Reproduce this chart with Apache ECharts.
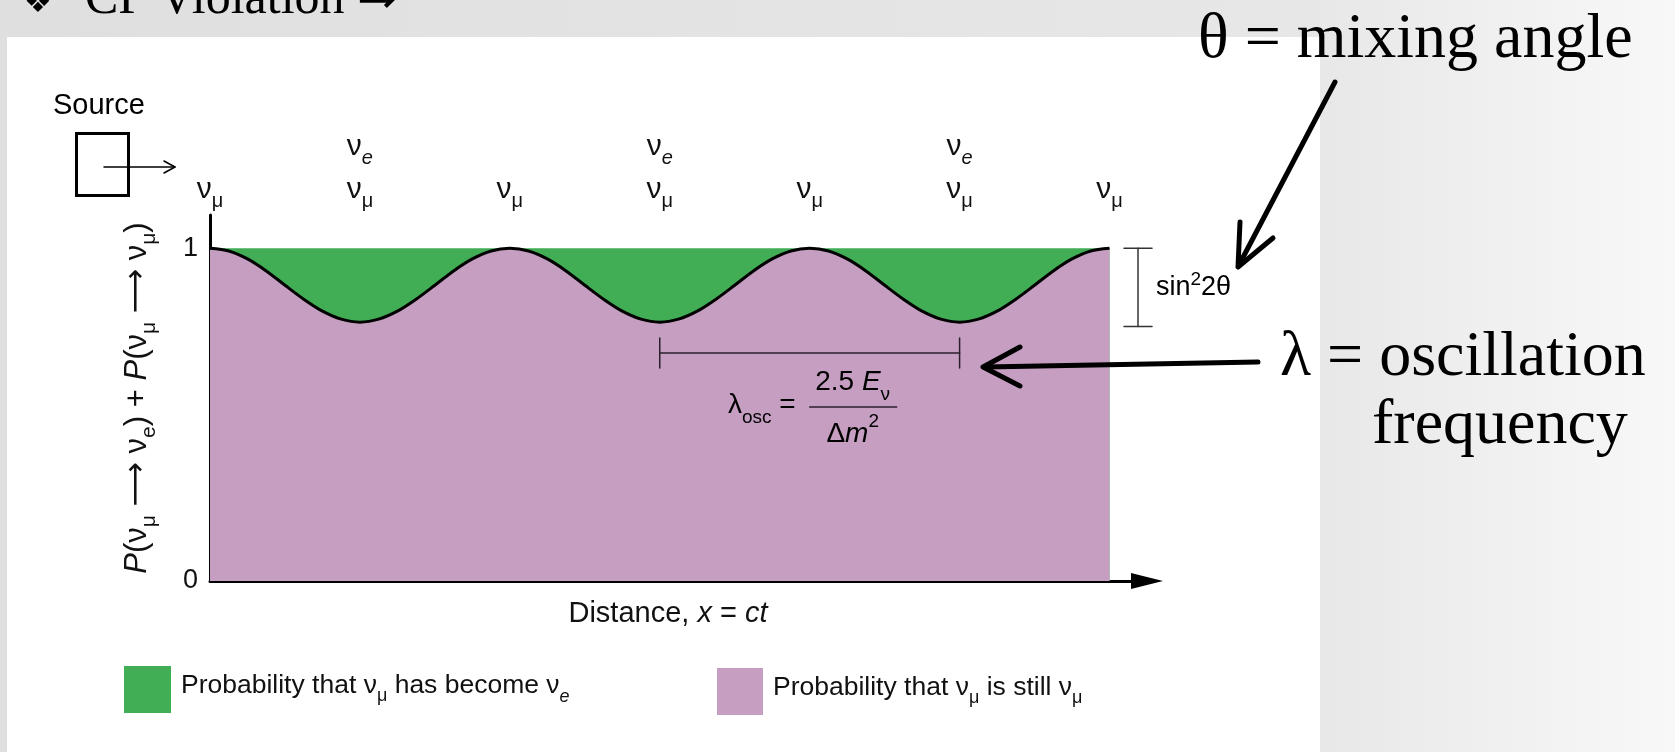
<!DOCTYPE html>
<html>
<head>
<meta charset="utf-8">
<title>Neutrino oscillation</title>
<script src="https://cdn.jsdelivr.net/npm/echarts@6.0.0/dist/echarts.min.js"></script>
<style>
  html, body { margin:0; padding:0; width:1675px; height:752px; overflow:hidden; }
  body { background: linear-gradient(to right, #dfdfdf 0%, #e7e7e7 78%, #f8f8f8 100%); }
  #panel { position:absolute; left:7px; top:37px; width:1313px; height:715px; background:#ffffff; }
  #chart { position:absolute; left:0; top:0; width:1675px; height:752px; }
</style>
</head>
<body>
<div id="panel"></div>
<div id="chart"></div>
<script>
// ---------------- data ----------------
// distance in units of the oscillation length (sampled every 1/16)
const distance = [0, 0.0625, 0.125, 0.1875, 0.25, 0.3125, 0.375, 0.4375,
                  0.5, 0.5625, 0.625, 0.6875, 0.75, 0.8125, 0.875, 0.9375,
                  1, 1.0625, 1.125, 1.1875, 1.25, 1.3125, 1.375, 1.4375,
                  1.5, 1.5625, 1.625, 1.6875, 1.75, 1.8125, 1.875, 1.9375,
                  2, 2.0625, 2.125, 2.1875, 2.25, 2.3125, 2.375, 2.4375,
                  2.5, 2.5625, 2.625, 2.6875, 2.75, 2.8125, 2.875, 2.9375, 3];
// P(nu_mu -> nu_mu)
const pMuMu = [1.000, 0.992, 0.968, 0.932, 0.889, 0.847, 0.811, 0.787,
               0.778, 0.787, 0.811, 0.847, 0.889, 0.932, 0.968, 0.992,
               1.000, 0.992, 0.968, 0.932, 0.889, 0.847, 0.811, 0.787,
               0.778, 0.787, 0.811, 0.847, 0.889, 0.932, 0.968, 0.992,
               1.000, 0.992, 0.968, 0.932, 0.889, 0.847, 0.811, 0.787,
               0.778, 0.787, 0.811, 0.847, 0.889, 0.932, 0.968, 0.992, 1.000];
// total probability (green + purple) = 1
const totalX = [0, 3];
const totalP = [1, 1];
// flavour labels along the top
const topTickValues = [0, 0.5, 1, 1.5, 2, 2.5, 3];
const topTickLabels = ['ν_μ', 'ν_e\nν_μ', 'ν_μ', 'ν_e\nν_μ', 'ν_μ', 'ν_e\nν_μ', 'ν_μ'];
// y ticks
const yTickValues = [0, 1];
const yTickLabels = ['0', '1'];
// names
const seriesNames = ['Probability that ν_μ has become ν_e', 'Probability that ν_μ is still ν_μ'];
const yAxisTitle = '*P*(ν_μ ⟶ ν_e) + *P*(ν_μ ⟶ ν_μ)';
const xAxisTitle = 'Distance, *x* = *ct*';

// ---------------- styling ----------------
const FF = '"Liberation Sans", Arial, Helvetica, sans-serif';
const SERIF = '"Liberation Serif", "Times New Roman", serif';
const GREEN = '#41ad55';
const PURPLE = '#c59ec2';
const INK = '#111111';

function toRich(str, eItalic) {
  return str.split(/(\*[^*]+\*|ν_[μe]|\n|⟶)/).map(p => {
    if (!p) return '';
    if (p === '\n') return '\n';
    if (p === '⟶') return '{a|⟶}';
    if (p[0] === '*') return '{i|' + p.slice(1, -1) + '}';
    if (p === 'ν_μ') return '{n|ν}{s|μ}';
    if (p === 'ν_e') return '{n|ν}{' + (eItalic ? 'se' : 's') + '|e}';
    return '{n|' + p + '}';
  }).join('');
}
function richSet(size, lh, sub) {
  return {
    n:  { fontSize: size, lineHeight: lh, fontFamily: FF, color: INK },
    a:  { fontSize: size, lineHeight: lh, fontFamily: '"DejaVu Sans"', color: INK },
    i:  { fontSize: size, lineHeight: lh, fontFamily: FF, color: INK, fontStyle: 'italic' },
    s:  { fontSize: sub, lineHeight: sub, fontFamily: FF, color: INK, verticalAlign: 'bottom' },
    se: { fontSize: sub, lineHeight: sub, fontFamily: FF, color: INK, verticalAlign: 'bottom', fontStyle: 'italic' },
    sup:{ fontSize: sub, lineHeight: sub, fontFamily: FF, color: INK, verticalAlign: 'top' }
  };
}
function lookup(values, labels, v) {
  const k = values.findIndex(t => Math.abs(t - v) < 1e-6);
  return k < 0 ? null : labels[k];
}

const chart = echarts.init(document.getElementById('chart'), null, { renderer: 'canvas' });

const option = {
  animation: false,
  backgroundColor: 'transparent',
  textStyle: { fontFamily: FF, color: INK },
  grid: { left: 210, right: 528, top: 215, bottom: 171, outerBoundsMode: 'none' },
  xAxis: [
    {
      type: 'value', position: 'bottom', min: 0, max: 3.125,
      axisLine: { show: true, onZero: false, lineStyle: { color: '#000', width: 3 },
                  symbol: ['none', 'triangle'], symbolSize: [16, 32] },
      axisTick: { show: false }, axisLabel: { show: false }, splitLine: { show: false },
      name: toRich(xAxisTitle, false), nameLocation: 'middle', nameGap: 18,
      nameTextStyle: { padding: [0, 21, 0, 0], rich: richSet(29, 30, 19) }
    },
    {
      type: 'value', position: 'top', min: 0, max: 3.125, interval: 0.5,
      axisLine: { show: false }, axisTick: { show: false }, splitLine: { show: false },
      axisLabel: {
        show: true, interval: 0, margin: 4, verticalAlign: 'bottom',
        formatter: v => { const l = lookup(topTickValues, topTickLabels, v); return l ? toRich(l, true) : ''; },
        rich: richSet(30, 43, 20)
      }
    }
  ],
  yAxis: {
    type: 'value', min: 0, max: 1.1, interval: 1,
    axisLine: { show: true, onZero: false, lineStyle: { color: '#000', width: 3 } },
    axisTick: { show: false }, splitLine: { show: false },
    axisLabel: {
      margin: 12, fontSize: 27, color: INK, fontFamily: FF,
      formatter: v => lookup(yTickValues, yTickLabels, v) || ''
    },
    name: toRich(yAxisTitle, false), nameLocation: 'middle', nameRotate: 90, nameGap: 50,
    nameTextStyle: { rich: richSet(31, 46, 21) }
  },
  legend: [
    {
      data: [seriesNames[0]], left: 124, top: 666, orient: 'horizontal', padding: 0,
      icon: 'rect', itemWidth: 47, itemHeight: 47, selectedMode: false,
      itemStyle: { color: GREEN, borderWidth: 0 },
      formatter: n => toRich(n, true),
      textStyle: { padding: [0, 0, 8, 5], rich: richSet(26.5, 40, 18) }
    },
    {
      data: [seriesNames[1]], left: 717, top: 668, orient: 'horizontal', padding: 0,
      icon: 'rect', itemWidth: 46, itemHeight: 47, selectedMode: false,
      itemStyle: { color: PURPLE, borderWidth: 0 },
      formatter: n => toRich(n, true),
      textStyle: { padding: [0, 0, 8, 5], rich: richSet(26.5, 40, 18) }
    }
  ],
  series: [
    {
      name: seriesNames[0], type: 'line', xAxisIndex: 0, yAxisIndex: 0,
      data: totalX.map((x, i) => [x, totalP[i]]),
      symbol: 'none', silent: true, z: 1,
      itemStyle: { color: GREEN },
      lineStyle: { width: 0, opacity: 0 },
      areaStyle: { color: GREEN, opacity: 1 }
    },
    {
      name: seriesNames[1], type: 'line', xAxisIndex: 0, yAxisIndex: 0,
      data: distance.map((x, i) => [x, pMuMu[i]]),
      smooth: 0.3, symbol: 'none', silent: true, z: 2,
      itemStyle: { color: PURPLE },
      lineStyle: { color: '#000', width: 3 },
      areaStyle: { color: PURPLE, opacity: 1 }
    }
  ]
};
chart.setOption(option);

// ---------------- annotations ----------------
const px = (x, y) => chart.convertToPixel({ xAxisIndex: 0, yAxisIndex: 0 }, [x, y]);
const txt = (x, y, text, font, extra) => ({
  type: 'text', x: x, y: y, z: 50,
  style: Object.assign({ text: text, font: font, fill: '#000', align: 'left', verticalAlign: 'middle' }, extra || {})
});
const line = (pts, w, color) => ({
  type: 'polyline', z: 50, shape: { points: pts },
  style: { stroke: color || '#000', lineWidth: w, fill: null, lineCap: 'round', lineJoin: 'round' }
});

// oscillation-length bracket
const [bx0, by] = px(1.5, 0.685);
const [bx1] = px(2.5, 0.685);
const cx = (bx0 + bx1) / 2;
const BR = '#2b1f2b';
// sin^2 2θ bracket
const [sx, sTop] = px(3.095, 1.0);
const [, sBot] = px(3.095, 0.765);

const graphics = [
  // slide title (cut at top)
  txt(24, 4, '❖', '31px "DejaVu Sans"'),
  txt(85, 0, 'CP Violation ⇒', '50px ' + SERIF),
  // source
  txt(53, 106, 'Source', '29px ' + FF),
  { type: 'rect', z: 50, shape: { x: 76.5, y: 133.5, width: 52, height: 62 },
    style: { fill: null, stroke: '#000', lineWidth: 3 } },
  line([[104, 167], [175, 167]], 1.5),
  line([[164, 161], [175, 167], [164, 173]], 1.5),
  // right-hand annotations
  txt(1198, 40, 'θ = mixing angle', '64px ' + SERIF),
  line([[1335, 82], [1239, 265]], 5),
  line([[1273, 238], [1238, 267], [1240, 222]], 5),
  txt(1280, 358, 'λ = oscillation', '64px ' + SERIF),
  txt(1372, 426, 'frequency', '64px ' + SERIF),
  line([[1258, 362], [985, 367]], 5),
  line([[1020, 347], [983, 367], [1020, 386]], 5),
  // λ_osc bracket
  line([[bx0, by], [bx1, by]], 1.5, BR),
  line([[bx0, by - 15], [bx0, by + 15]], 1.5, BR),
  line([[bx1, by - 15], [bx1, by + 15]], 1.5, BR),
  { type: 'text', x: cx - 14, y: by + 52, z: 50,
    style: { text: '{n|λ}{s|osc}{n| =}', rich: richSet(28, 44, 19), align: 'right', verticalAlign: 'middle' } },
  { type: 'text', x: cx + 43, y: by + 29, z: 50,
    style: { text: '{n|2.5 }{i|E}{s|ν}', rich: richSet(28, 44, 19), align: 'center', verticalAlign: 'middle' } },
  line([[cx, by + 54], [cx + 87, by + 54]], 1.5, BR),
  { type: 'text', x: cx + 43, y: by + 81, z: 50,
    style: { text: '{n|Δ}{i|m}{sup|2}', rich: richSet(28, 44, 19), align: 'center', verticalAlign: 'middle' } },
  // sin^2 2θ bracket
  line([[sx, sTop], [sx, sBot]], 1.5, '#333'),
  line([[sx - 14, sTop], [sx + 14, sTop]], 1.5, '#333'),
  line([[sx - 14, sBot], [sx + 14, sBot]], 1.5, '#333'),
  { type: 'text', x: sx + 18, y: (sTop + sBot) / 2, z: 50,
    style: { text: '{n|sin}{sup|2}{n|2θ}', rich: richSet(27, 34, 19), align: 'left', verticalAlign: 'middle' } }
];
chart.setOption({ graphic: graphics });
</script>
</body>
</html>
